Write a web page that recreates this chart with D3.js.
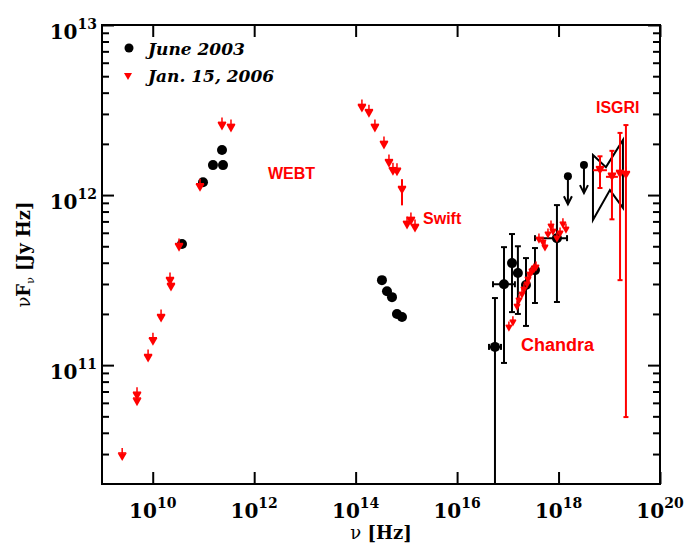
<!DOCTYPE html>
<html><head><meta charset="utf-8">
<script src="https://cdn.jsdelivr.net/npm/d3@7"></script>
<style>body{margin:0;background:#fff}</style></head>
<body><svg id="c" width="689" height="544"></svg>
<script>
// ---------- data (nu in Hz, nuFnu in Jy Hz) ----------
// June 2003 (black)
const jun03RadioNu = [3.78e10, 9.8e10, 1.54e11, 2.43e11, 2.32e11];
const jun03RadioF  = [5.15e11, 1.19e12, 1.50e12, 1.50e12, 1.84e12];
const jun03OptNu = [3.30e14, 4.15e14, 5.21e14, 6.53e14, 8.2e14];
const jun03OptF  = [3.16e11, 2.72e11, 2.51e11, 2.0e11, 1.92e11];
const jun03XNu   = [5.58e16, 8.4e16, 1.21e17, 1.58e17, 2.28e17, 3.43e17, 9.3e17];
const jun03XF    = [1.28e11, 2.99e11, 3.98e11, 3.48e11, 2.96e11, 3.62e11, 5.58e11];
const jun03XFlo  = [1e10, 1.03e11, 2.05e11, 2.0e11, 1.7e11, 2.32e11, 2.35e11];
const jun03XFhi  = [2.48e11, 4.94e11, 5.9e11, 5.0e11, 4.26e11, 4.88e11, 8.73e11];
const jun03XNulo = [4.26e16, 5.1e16, null, null, null, null, 3.43e17];
const jun03XNuhi = [7.33e16, 1.38e17, null, null, null, null, 1.47e18];
const jun03UlNu = [1.53e18, 3.17e18];
const jun03UlF  = [1.29e12, 1.50e12];
// June 2003 ISGRI bow-tie outline
const bowNu = [4.77e18, 8.6e18, 1.86e19, 1.86e19, 1.03e19, 4.77e18];
const bowF  = [1.72e12, 1.46e12, 2.11e12, 8.4e11, 1.07e12, 7.13e11];

// Jan. 15, 2006 (red)
const jan06WebtNu = [2.5e9, 4.9e9, 4.9e9, 8.1e9, 1.01e10, 1.46e10, 2.19e10, 2.29e10, 3.3e10, 8.55e10, 2.32e11, 3.49e11];
const jan06WebtF  = [2.9e10, 6.6e10, 6.1e10, 1.1e11, 1.38e11, 1.89e11, 3.12e11, 2.88e11, 4.94e11, 1.11e12, 2.55e12, 2.48e12];
const jan06OptNu = [1.33e14, 1.83e14, 2.40e14, 3.62e14, 4.54e14, 5.44e14, 6.53e14, 8.2e14];
const jan06OptF  = [3.25e12, 3.03e12, 2.48e12, 1.97e12, 1.54e12, 1.38e12, 1.37e12, 1.07e12];
const jan06OptFlo = [null, null, null, null, null, null, null, 8.7e11];
const jan06OptFhi = [null, null, null, null, null, null, null, 1.24e12];
const jan06SwiftNu = [1.03e15, 1.23e15, 1.48e15];
const jan06SwiftF  = [6.67e11, 7.04e11, 6.4e11];
const jan06ChandraNu = [1.05e17, 1.26e17, 1.52e17, 1.66e17, 1.90e17, 2.08e17, 2.39e17, 2.50e17, 2.73e17, 2.99e17, 3.28e17, 3.59e17, 4.11e17, 4.93e17, 5.4e17, 6.19e17, 7.1e17, 7.77e17, 9.3e17, 1.07e18, 1.22e18, 1.40e18];
const jan06ChandraF  = [1.65e11, 1.77e11, 2.19e11, 2.38e11, 2.58e11, 2.76e11, 2.96e11, 3.16e11, 3.38e11, 3.52e11, 3.62e11, 3.72e11, 5.43e11, 5.22e11, 4.88e11, 5.82e11, 6.48e11, 6.05e11, 5.51e11, 5.9e11, 6.67e11, 6.22e11];
const jan06IsgriNu = [6.56e18, 1.13e19, 1.63e19, 2.13e19];
const jan06IsgriF  = [1.40e12, 1.28e12, 1.33e12, 1.31e12];
const jan06IsgriFlo = [1.10e12, 7.2e11, 3.16e11, 4.95e10];
const jan06IsgriFhi = [1.69e12, 1.82e12, 2.32e12, 2.58e12];
const jan06IsgriNulo = [4.77e18, 8.6e18, null, null];
const jan06IsgriNuhi = [9.0e18, 1.48e19, null, null];

const xTickVals = [1e10, 1e12, 1e14, 1e16, 1e18, 1e20];
const yTickVals = [1e11, 1e12, 1e13];

const labels = [
  {t: "WEBT", nu: 1.87e12, f: 1.24e12},
  {t: "Swift", nu: 2.13e15, f: 6.75e11},
  {t: "Chandra", nu: 1.82e17, f: 1.21e11},
  {t: "ISGRI", nu: 5.47e18, f: 3.03e12}
];
const legendItems = ["June 2003", "Jan. 15, 2006"];

// ---------- layout ----------
const svg = d3.select("#c");
const L = 102, R = 660, T = 25, B = 484;
const x = d3.scaleLog().domain([1e9, 1e20]).range([L, R]);
const y = d3.scaleLog().domain([2e10, 1e13]).range([B, T]);
const RED = "#ff0000";
const serif = "'DejaVu Serif', serif";
const sans = "'Liberation Sans', Arial, sans-serif";

svg.append("defs").append("clipPath").attr("id", "clip")
  .append("rect").attr("x", L).attr("y", T).attr("width", R - L).attr("height", B - T);

// axes ticks
const minorY = [];
for (let e = 10; e < 13; e++) for (let m = 2; m <= 9; m++) minorY.push(m * Math.pow(10, e));
function styleAxis(g) {
  g.select(".domain").remove();
  g.selectAll("line").attr("stroke", "#000").attr("stroke-width", 2);
}
svg.append("g").attr("transform", `translate(${L},0)`)
  .call(d3.axisLeft(y).tickValues(yTickVals).tickSize(-12).tickFormat("")).call(styleAxis);
svg.append("g").attr("transform", `translate(${L},0)`)
  .call(d3.axisLeft(y).tickValues(minorY.filter(v => v > 2e10)).tickSize(-7).tickFormat("")).call(styleAxis);
svg.append("g").attr("transform", `translate(${R},0)`)
  .call(d3.axisRight(y).tickValues(yTickVals).tickSize(-12).tickFormat("")).call(styleAxis);
svg.append("g").attr("transform", `translate(${R},0)`)
  .call(d3.axisRight(y).tickValues(minorY.filter(v => v > 2e10)).tickSize(-7).tickFormat("")).call(styleAxis);
svg.append("g").attr("transform", `translate(0,${B})`)
  .call(d3.axisBottom(x).tickValues(xTickVals).tickSize(-12).tickFormat("")).call(styleAxis);
svg.append("g").attr("transform", `translate(0,${T})`)
  .call(d3.axisTop(x).tickValues(xTickVals).tickSize(-12).tickFormat("")).call(styleAxis);

svg.append("rect").attr("x", L).attr("y", T).attr("width", R - L).attr("height", B - T)
  .attr("fill", "none").attr("stroke", "#000").attr("stroke-width", 2);

// tick labels
xTickVals.forEach(v => {
  const t = svg.append("text").attr("x", x(v)).attr("y", 518).attr("text-anchor", "middle")
    .attr("font-family", serif).attr("font-weight", "bold").attr("font-size", 20).attr("fill", "#000");
  t.append("tspan").text("10");
  t.append("tspan").attr("dy", -10).attr("font-size", 14).text(Math.round(Math.log10(v)));
});
yTickVals.forEach(v => {
  const t = svg.append("text").attr("x", 97).attr("y", y(v) + 14).attr("text-anchor", "end")
    .attr("font-family", serif).attr("font-weight", "bold").attr("font-size", 20).attr("fill", "#000");
  t.append("tspan").text("10");
  t.append("tspan").attr("dy", -10).attr("font-size", 14).text(Math.round(Math.log10(v)));
});

// axis titles
const xt = svg.append("text").attr("x", (L + R) / 2).attr("y", 539).attr("text-anchor", "middle")
  .attr("font-family", serif).attr("font-weight", "bold").attr("font-size", 18);
xt.append("tspan").attr("font-weight", "normal").text("ν");
xt.append("tspan").text(" [Hz]");
const yt = svg.append("text").attr("transform", `translate(30,${(T + B) / 2}) rotate(-90)`)
  .attr("text-anchor", "middle").attr("font-family", serif).attr("font-weight", "bold").attr("font-size", 18);
yt.append("tspan").attr("font-weight", "normal").text("ν");
yt.append("tspan").text("F");
yt.append("tspan").attr("font-size", 11).attr("font-weight", "normal").attr("dy", 4).text("ν");
yt.append("tspan").attr("dy", -4).text(" [Jy Hz]");

// ---------- marks ----------
const plot = svg.append("g").attr("clip-path", "url(#clip)");

function vbar(g, px, y1, y2, color, w, cap) {
  g.append("line").attr("x1", px).attr("x2", px).attr("y1", y1).attr("y2", y2)
    .attr("stroke", color).attr("stroke-width", w);
  if (cap) [y1, y2].forEach(yy => g.append("line").attr("x1", px - cap).attr("x2", px + cap)
    .attr("y1", yy).attr("y2", yy).attr("stroke", color).attr("stroke-width", w));
}
function hbar(g, py, x1, x2, color, w, cap) {
  g.append("line").attr("x1", x1).attr("x2", x2).attr("y1", py).attr("y2", py)
    .attr("stroke", color).attr("stroke-width", w);
  if (cap) [x1, x2].forEach(xx => g.append("line").attr("x1", xx).attr("x2", xx)
    .attr("y1", py - cap).attr("y2", py + cap).attr("stroke", color).attr("stroke-width", w));
}
function tri(g, px, py, s, stem) {
  if (stem) {
    g.append("line").attr("x1", px).attr("x2", px).attr("y1", py - s * 1.9).attr("y2", py)
      .attr("stroke", RED).attr("stroke-width", 1.5);
    g.append("line").attr("x1", px - s * 0.9).attr("x2", px + s * 0.9).attr("y1", py - s * 0.8).attr("y2", py - s * 0.8)
      .attr("stroke", RED).attr("stroke-width", 1.5);
  }
  g.append("path").attr("d", `M${px - s},${py - s * 0.75}L${px + s},${py - s * 0.75}L${px},${py + s}Z`)
    .attr("fill", RED);
}
function dot(g, px, py, r) {
  g.append("circle").attr("cx", px).attr("cy", py).attr("r", r).attr("fill", "#000");
}

// bow-tie
plot.append("path")
  .attr("d", d3.line().x((d, i) => x(bowNu[i])).y((d, i) => y(bowF[i]))(bowNu) + "Z")
  .attr("fill", "none").attr("stroke", "#000").attr("stroke-width", 2);

// black X-ray error bars
jun03XNu.forEach((nu, i) => {
  vbar(plot, x(nu), y(jun03XFhi[i]), y(jun03XFlo[i]), "#000", 2, 3);
  if (jun03XNulo[i]) hbar(plot, y(jun03XF[i]), x(jun03XNulo[i]), x(jun03XNuhi[i]), "#000", 2, 3);
});
// upper limits
jun03UlNu.forEach((nu, i) => {
  const px = x(nu), py = y(jun03UlF[i]);
  plot.append("line").attr("x1", px).attr("x2", px).attr("y1", py).attr("y2", py + 28)
    .attr("stroke", "#000").attr("stroke-width", 2);
  plot.append("path").attr("d", `M${px - 4},${py + 20}L${px},${py + 28}L${px + 4},${py + 20}`)
    .attr("fill", "none").attr("stroke", "#000").attr("stroke-width", 2);
});

// red error bars
jan06OptNu.forEach((nu, i) => {
  if (jan06OptFlo[i]) vbar(plot, x(nu), y(jan06OptFhi[i]), y(jan06OptFlo[i]), RED, 2, 0);
});
jan06IsgriNu.forEach((nu, i) => {
  vbar(plot, x(nu), y(jan06IsgriFhi[i]), y(jan06IsgriFlo[i]), RED, 2, 2.5);
  if (jan06IsgriNulo[i]) hbar(plot, y(jan06IsgriF[i]), x(jan06IsgriNulo[i]), x(jan06IsgriNuhi[i]), RED, 2, 0);
});

// black points
[[jun03RadioNu, jun03RadioF], [jun03OptNu, jun03OptF], [jun03XNu, jun03XF]].forEach(([xs, ys]) =>
  xs.forEach((nu, i) => dot(plot, x(nu), y(ys[i]), 5)));
jun03UlNu.forEach((nu, i) => dot(plot, x(nu), y(jun03UlF[i]), 4));

// red points
[[jan06WebtNu, jan06WebtF], [jan06OptNu, jan06OptF], [jan06SwiftNu, jan06SwiftF], [jan06IsgriNu, jan06IsgriF]]
  .forEach(([xs, ys]) => xs.forEach((nu, i) => tri(plot, x(nu), y(ys[i]), 4.5, true)));
jan06ChandraNu.forEach((nu, i) => tri(plot, x(nu), y(jan06ChandraF[i]), 3.5, true));

// text labels
labels.forEach(l => svg.append("text").attr("x", x(l.nu)).attr("y", y(l.f))
  .attr("font-family", sans).attr("font-weight", "bold").attr("font-size", l.t === "Chandra" ? 18 : 16)
  .attr("fill", RED).text(l.t));

// legend
dot(svg, 129, 48, 4.5);
tri(svg, 128, 76, 4, false);
legendItems.forEach((t, i) => svg.append("text").attr("x", 148).attr("y", 55 + i * 27)
  .attr("font-family", serif).attr("font-weight", "bold").attr("font-style", "italic")
  .attr("font-size", 17).attr("fill", "#000").text(t));
</script></body></html>
